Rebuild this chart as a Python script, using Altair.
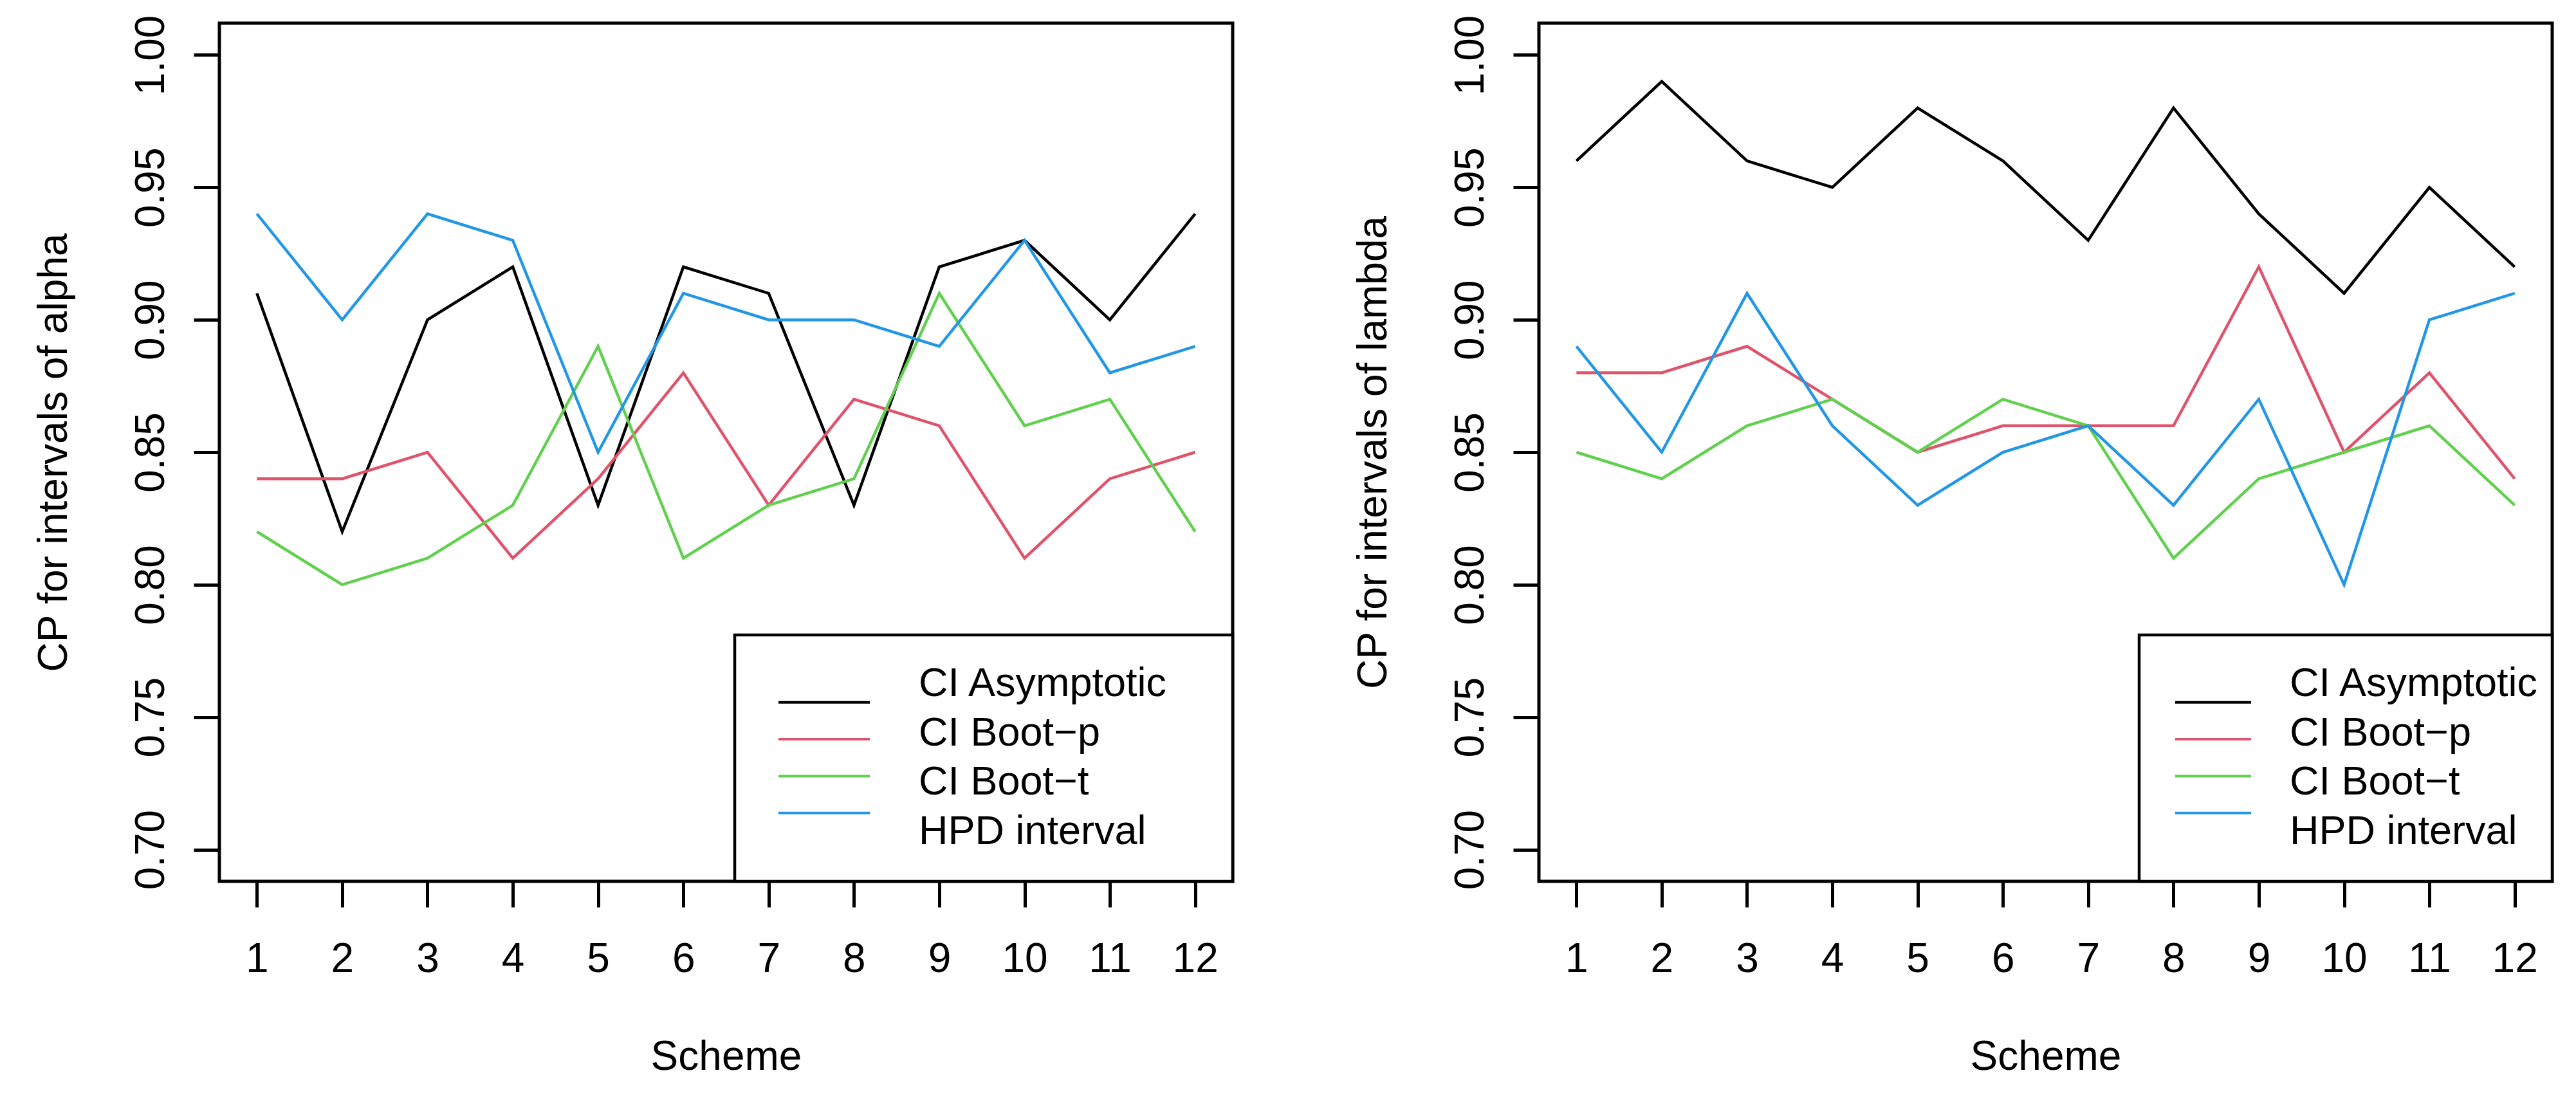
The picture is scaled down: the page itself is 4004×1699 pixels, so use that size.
import altair as alt
import pandas as pd

FONT = "Liberation Sans"
FS = 64

schemes = list(range(1, 13))
series = ["CI Asymptotic", "CI Boot\u2212p", "CI Boot\u2212t", "HPD interval"]
colors = ["#000000", "#DF536B", "#61D04F", "#2297E6"]
y_ticks = [0.70, 0.75, 0.80, 0.85, 0.90, 0.95, 1.00]

# CP for intervals of alpha
alpha_asym = [0.91, 0.82, 0.90, 0.92, 0.83, 0.92, 0.91, 0.83, 0.92, 0.93, 0.90, 0.94]
alpha_bootp = [0.84, 0.84, 0.85, 0.81, 0.84, 0.88, 0.83, 0.87, 0.86, 0.81, 0.84, 0.85]
alpha_boott = [0.82, 0.80, 0.81, 0.83, 0.89, 0.81, 0.83, 0.84, 0.91, 0.86, 0.87, 0.82]
alpha_hpd = [0.94, 0.90, 0.94, 0.93, 0.85, 0.91, 0.90, 0.90, 0.89, 0.93, 0.88, 0.89]

# CP for intervals of lambda
lambda_asym = [0.96, 0.99, 0.96, 0.95, 0.98, 0.96, 0.93, 0.98, 0.94, 0.91, 0.95, 0.92]
lambda_bootp = [0.88, 0.88, 0.89, 0.87, 0.85, 0.86, 0.86, 0.86, 0.92, 0.85, 0.88, 0.84]
lambda_boott = [0.85, 0.84, 0.86, 0.87, 0.85, 0.87, 0.86, 0.81, 0.84, 0.85, 0.86, 0.83]
lambda_hpd = [0.89, 0.85, 0.91, 0.86, 0.83, 0.85, 0.86, 0.83, 0.87, 0.80, 0.90, 0.91]

W, H = 1575, 1334


def long_df(lists):
    rows = []
    for name, vals in zip(series, lists):
        for s, v in zip(schemes, vals):
            rows.append({"scheme": s, "cp": v, "series": name})
    return pd.DataFrame(rows)


color_enc = alt.Color("series:N", scale=alt.Scale(domain=series, range=colors), legend=None)
leg_y = alt.Y("series:N", scale=alt.Scale(domain=series, range=[1027, 1256.5], padding=0), axis=None)


def panel(lists, ytitle, box_x, line_x1, line_x2, text_x):
    df = long_df(lists)
    lines = alt.Chart(df).mark_line(strokeWidth=4.5).encode(
        x=alt.X("scheme:Q",
                scale=alt.Scale(domain=[0.56, 12.44], nice=False, zero=False),
                axis=alt.Axis(values=schemes, format="d", title="Scheme",
                              labelPadding=49, labelBaseline="top",
                              titleY=292, titleBaseline="alphabetic")),
        y=alt.Y("cp:Q",
                scale=alt.Scale(domain=[0.688, 1.012], nice=False, zero=False),
                axis=alt.Axis(values=y_ticks, format=".2f", title=ytitle,
                              labelAngle=270, labelAlign="center",
                              labelBaseline="alphabetic", labelPadding=47,
                              titleX=-238, titleBaseline="alphabetic")),
        color=color_enc,
    )
    leg_df = pd.DataFrame({"series": series})
    box = alt.Chart(pd.DataFrame({"box": [0]})).mark_rect(
        fill="white", stroke="black", strokeWidth=4.5
    ).encode(x=alt.value(box_x), x2=alt.value(W), y=alt.value(951), y2=alt.value(H))
    rules = alt.Chart(leg_df).mark_rule(strokeWidth=4).encode(
        x=alt.value(line_x1), x2=alt.value(line_x2), y=leg_y, color=color_enc
    )
    texts = alt.Chart(leg_df).mark_text(
        align="left", baseline="middle", fontSize=63, font=FONT, color="black"
    ).encode(x=alt.value(text_x), y=leg_y, text="series:N")
    return alt.layer(lines, box, rules, texts).resolve_scale(y="independent").properties(
        width=W, height=H
    )


left = panel([alpha_asym, alpha_bootp, alpha_boott, alpha_hpd],
             "CP for intervals of alpha", 801, 869, 1011, 1087)
right = panel([lambda_asym, lambda_bootp, lambda_boott, lambda_hpd],
              "CP for intervals of lambda", 933, 989, 1107, 1167)

chart = alt.hconcat(left, right, spacing=476, bounds="flush").properties(
    padding={"left": 41, "top": 12, "right": 10, "bottom": 10}
).configure_view(
    stroke="black", strokeWidth=5
).configure_axis(
    labelFont=FONT, titleFont=FONT, labelFontSize=FS, titleFontSize=FS,
    labelColor="black", titleColor="black", titleFontWeight="normal",
    tickColor="black", tickWidth=5, tickSize=40, domain=False, grid=False,
    labelFlush=False, labelOverlap=False,
)

chart.save("out.html", embed_options={"renderer": "svg", "actions": False})
